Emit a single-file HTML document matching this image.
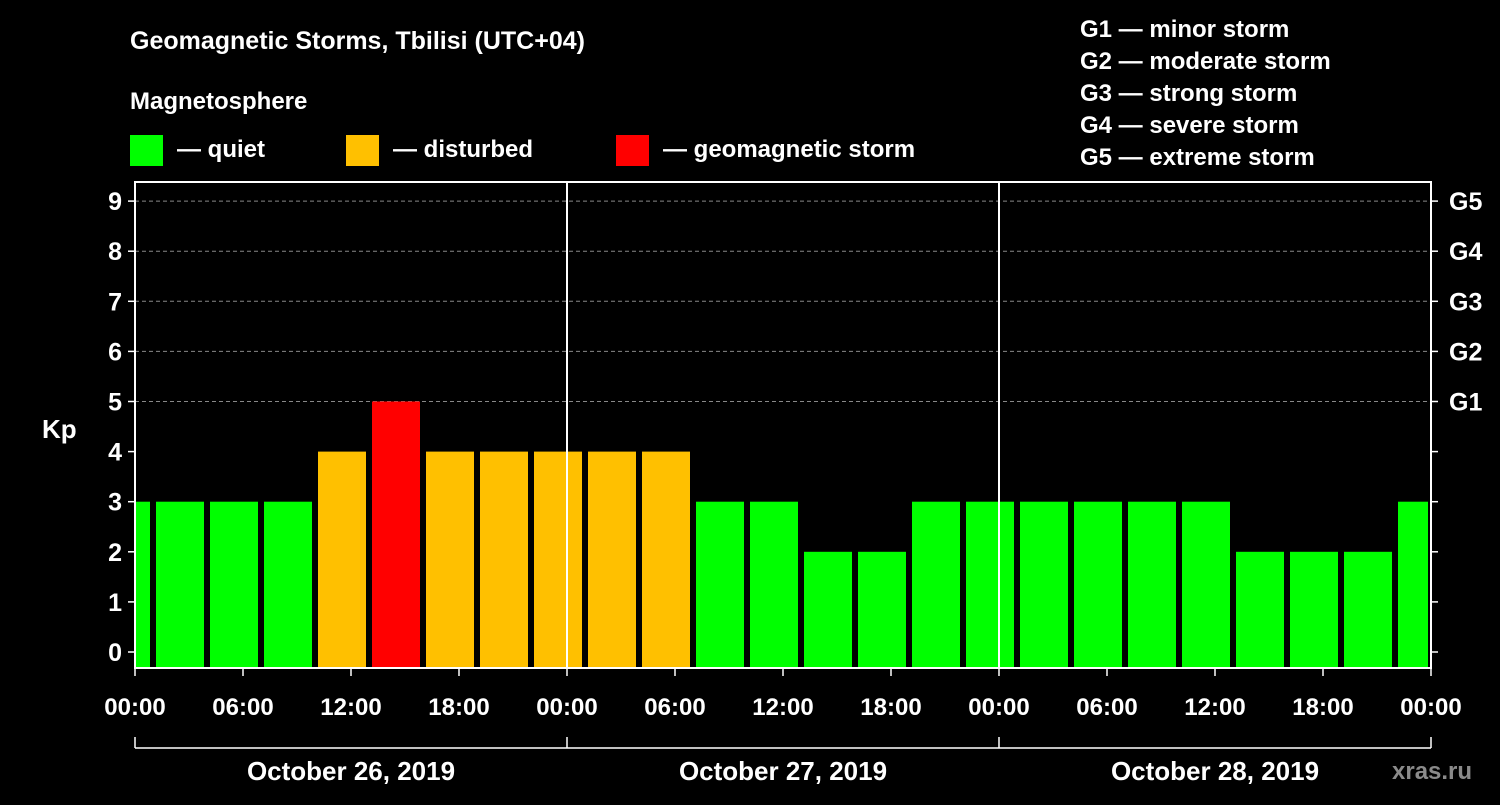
<!DOCTYPE html>
<html><head><meta charset="utf-8"><style>
body{margin:0;background:#000;}
svg text{font-family:"Liberation Sans",Arial,sans-serif;font-weight:bold;fill:#fff;}
</style></head><body>
<svg id="chart" width="1500" height="800" viewBox="0 0 1500 800" xmlns="http://www.w3.org/2000/svg">
<rect width="1500" height="800" fill="#000"/>
<text x="130" y="49" font-size="25">Geomagnetic Storms, Tbilisi (UTC+04)</text>
<text x="130" y="109" font-size="24">Magnetosphere</text>
<g>
<rect x="130" y="135" width="33" height="31" fill="#00ff00"/>
<text x="177" y="157" font-size="24">— quiet</text>
<rect x="346" y="135" width="33" height="31" fill="#ffc000"/>
<text x="393" y="157" font-size="24">— disturbed</text>
<rect x="616" y="135" width="33" height="31" fill="#ff0000"/>
<text x="663" y="157" font-size="24">— geomagnetic storm</text>
</g>
<g font-size="24">
<text x="1080" y="37">G1 — minor storm</text>
<text x="1080" y="69">G2 — moderate storm</text>
<text x="1080" y="101">G3 — strong storm</text>
<text x="1080" y="133">G4 — severe storm</text>
<text x="1080" y="165">G5 — extreme storm</text>
</g>
<g id="grid"></g>
<g id="bars"></g>
<g id="axes"></g>
<text x="42" y="438" font-size="26">Kp</text>
<text x="1392" y="779" font-size="24" fill="#888" style="fill:#8a8a8a">xras.ru</text>
</svg>
<script>
const kpValues=[3,3,3,3,4,5,4,4,4,4,4,3,3,2,2,3,3,3,3,3,3,2,2,2,3];
const barStartHours=[-2,1,4,7,10,13,16,19,22,25,28,31,34,37,40,43,46,49,52,55,58,61,64,67,70];
const yTicks=[0,1,2,3,4,5,6,7,8,9];
const gLabels=["G1","G2","G3","G4","G5"];
const gLevels=[5,6,7,8,9];
const xTickLabels=["00:00","06:00","12:00","18:00","00:00","06:00","12:00","18:00","00:00","06:00","12:00","18:00","00:00"];
const dayLabels=["October 26, 2019","October 27, 2019","October 28, 2019"];
const NS="http://www.w3.org/2000/svg";
const L=135,R=1431,T=182,B=668,totalH=72;
const x=h=>L+(h/totalH)*(R-L);
const y=v=>652-v*50.1;
function mk(tag,attrs,parent){const e=document.createElementNS(NS,tag);for(const k in attrs)e.setAttribute(k,attrs[k]);parent.appendChild(e);return e;}
const grid=document.getElementById('grid'),bars=document.getElementById('bars'),axes=document.getElementById('axes');
yTicks.forEach(v=>{if(v>=5){const l=mk('line',{x1:L,x2:R,y1:y(v),y2:y(v),stroke:'#888','stroke-dasharray':'4,3','stroke-width':1},grid);

}});
function color(v){return v>=5?'#ff0000':v>=4?'#ffc000':'#00ff00';}
kpValues.forEach((v,i)=>{const h0=Math.max(0,barStartHours[i]),h1=Math.min(totalH,barStartHours[i]+3);
const x0=x(h0)+(barStartHours[i]<0?0:3),x1=x(h1)-3;
const r=mk('rect',{x:x0,y:y(v),width:x1-x0,height:B-y(v),fill:color(v)},bars);

});
[24,48].forEach(h=>{const l=mk('line',{x1:x(h),x2:x(h),y1:T,y2:B,stroke:'#fff','stroke-width':2},axes);

});
const frame=mk('rect',{x:L,y:T,width:R-L,height:B-T,fill:'none',stroke:'#fff','stroke-width':2},axes);


yTicks.forEach(v=>{const t=mk('line',{x1:L-7,x2:L,y1:y(v),y2:y(v),stroke:'#fff','stroke-width':1.5},axes);


const t2=mk('line',{x1:R,x2:R+7,y1:y(v),y2:y(v),stroke:'#fff','stroke-width':1.5},axes);


const tx=mk('text',{x:L-13,y:y(v)+9,'font-size':25,'text-anchor':'end'},axes);tx.textContent=v;

});
gLabels.forEach((g,i)=>{const tx=mk('text',{x:R+18,y:y(gLevels[i])+9,'font-size':25},axes);tx.textContent=g;

});
xTickLabels.forEach((s,i)=>{const h=i*6;const t=mk('line',{x1:x(h),x2:x(h),y1:B,y2:B+8,stroke:'#fff','stroke-width':1.5},axes);


const tx=mk('text',{x:x(h),y:715,'font-size':24,'text-anchor':'middle'},axes);tx.textContent=s;

});
const br=mk('line',{x1:L,x2:R,y1:748,y2:748,stroke:'#fff','stroke-width':1.5},axes);


[0,24,48,72].forEach(h=>{const t=mk('line',{x1:x(h),x2:x(h),y1:737,y2:748,stroke:'#fff','stroke-width':1.5},axes);

});
dayLabels.forEach((d,i)=>{const tx=mk('text',{x:x(i*24+12),y:780,'font-size':26,'text-anchor':'middle'},axes);tx.textContent=d;

});
</script>
</body></html>
